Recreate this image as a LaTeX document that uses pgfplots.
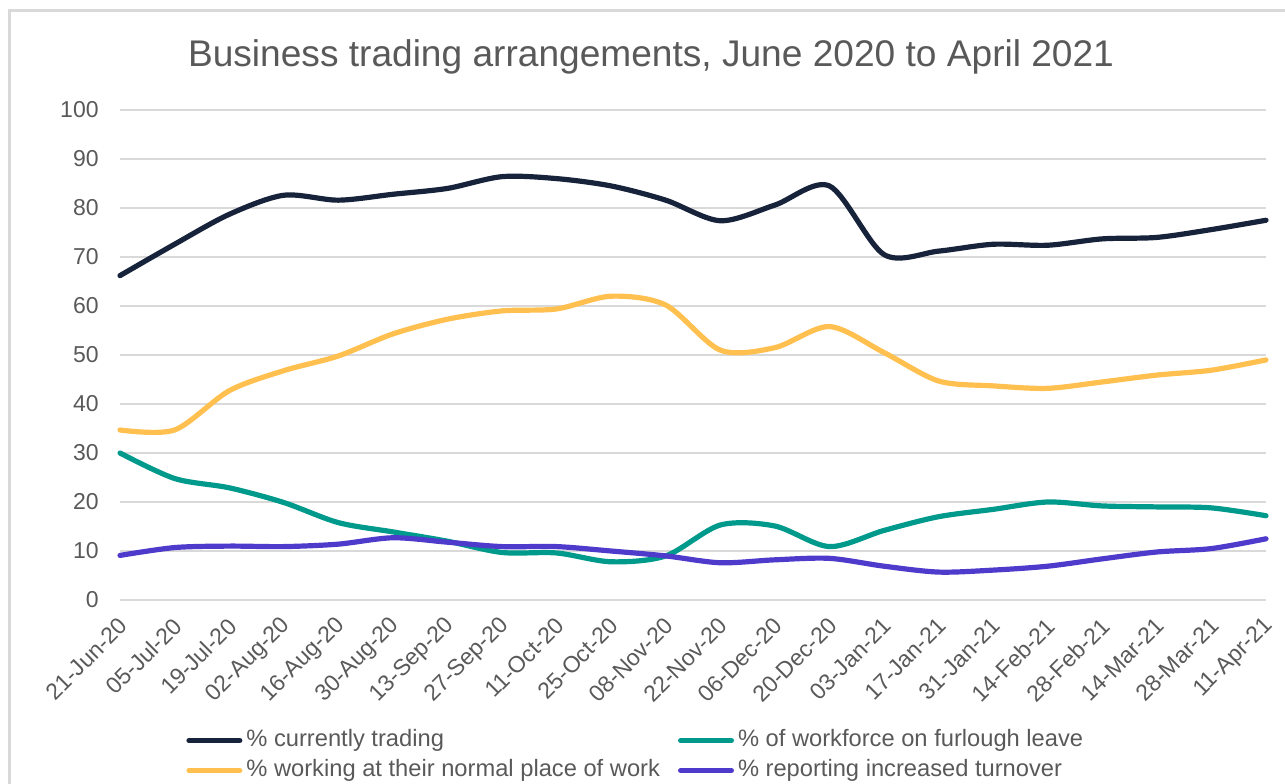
\documentclass[border=0pt]{standalone}
\usepackage{pgfplots}
\pgfplotsset{compat=1.18}
\usepackage{fontspec}
\setmainfont{Liberation Sans}
\definecolor{navy}{HTML}{17223B}
\definecolor{gold}{HTML}{FFC04F}
\definecolor{teal2}{HTML}{009A8C}
\definecolor{purp}{HTML}{4F3BCB}
\definecolor{gridgray}{HTML}{D9D9D9}
\definecolor{txt}{HTML}{595959}
\begin{document}
\begin{tikzpicture}
\begin{axis}[name=ax,
  scale only axis, width=573pt, height=245pt,
  xmin=0, xmax=21, ymin=0, ymax=100,
  ytick={0,10,...,100},
  xtick={0,...,21},
  xticklabels={21-Jun-20,05-Jul-20,19-Jul-20,02-Aug-20,16-Aug-20,30-Aug-20,13-Sep-20,27-Sep-20,11-Oct-20,25-Oct-20,08-Nov-20,22-Nov-20,06-Dec-20,20-Dec-20,03-Jan-21,17-Jan-21,31-Jan-21,14-Feb-21,28-Feb-21,14-Mar-21,28-Mar-21,11-Apr-21},
  ymajorgrids, grid style={gridgray, line width=1pt},
  axis line style={draw=none}, major tick length=0pt,
  tick label style={font=\fontsize{11.5}{13}\selectfont, text=txt},
  /pgf/number format/assume math mode=true,
  yticklabel style={anchor=east, inner sep=0pt, xshift=-10.5pt},
  xticklabel style={xshift=1.7pt, yshift=-11pt, rotate=45, anchor=east, inner sep=0pt},
  title={Business trading arrangements, June 2020 to April 2021},
  title style={font=\fontsize{18.55}{22}\selectfont, text=txt, at={(axis description cs:0.4634,1)}, anchor=base, yshift=16pt, inner sep=0pt},
  clip=false,
  legend columns=2,
  legend cell align=left,
  legend style={draw=none, fill=none, inner sep=0pt, at={(axis description cs:0.0576,0)}, anchor=north west, yshift=-64.5pt,
    font=\fontsize{11.85}{14}\selectfont, text=txt,
    nodes={inner sep=0pt, text height=8.6pt, text depth=2.5pt},
    row sep=3.9pt,
    /tikz/every odd column/.append style={column sep=2pt},
    /tikz/every even column/.append style={column sep=9pt}},
  legend image code/.code={\draw[#1, line cap=round] (1.3pt,0pt) -- (26.7pt,0pt);},
  every axis plot/.append style={line width=2.6pt, smooth, line cap=round, line join=round},
]
\addplot[navy] coordinates {(0,66.2)(1,72.6)(2,78.7)(3,82.6)(4,81.6)(5,82.8)(6,84.0)(7,86.4)(8,86.0)(9,84.5)(10,81.6)(11,77.4)(12,80.6)(13,84.5)(14,70.5)(15,71.2)(16,72.6)(17,72.4)(18,73.7)(19,74.0)(20,75.6)(21,77.5)};
\addlegendentry{\% currently trading}
\addplot[teal2] coordinates {(0,30.0)(1,24.8)(2,22.9)(3,19.9)(4,15.8)(5,13.9)(6,12.0)(7,9.7)(8,9.6)(9,7.8)(10,9.0)(11,15.3)(12,15.1)(13,10.9)(14,14.2)(15,17.0)(16,18.5)(17,20.0)(18,19.2)(19,19.0)(20,18.8)(21,17.2)};
\addlegendentry{\% of workforce on furlough leave}
\addplot[gold] coordinates {(0,34.7)(1,34.7)(2,42.7)(3,46.8)(4,49.8)(5,54.3)(6,57.3)(7,59.0)(8,59.4)(9,62.0)(10,60.2)(11,51.0)(12,51.5)(13,55.8)(14,50.5)(15,44.7)(16,43.7)(17,43.2)(18,44.5)(19,45.9)(20,46.9)(21,49.0)};
\addlegendentry{\% working at their normal place of work}
\addplot[purp] coordinates {(0,9.1)(1,10.7)(2,11.0)(3,10.9)(4,11.4)(5,12.7)(6,11.8)(7,10.9)(8,10.9)(9,10.0)(10,9.0)(11,7.6)(12,8.2)(13,8.5)(14,6.9)(15,5.7)(16,6.1)(17,6.9)(18,8.4)(19,9.8)(20,10.5)(21,12.5)};
\addlegendentry{\% reporting increased turnover}
\end{axis}
\draw[gridgray, line width=1.2pt] ([xshift=-55.25pt,yshift=-100pt]ax.south west) -- ([xshift=-55.25pt,yshift=49.75pt]ax.north west) -- ([xshift=20pt,yshift=49.75pt]ax.north east);
\pgfresetboundingbox
\useasboundingbox ([xshift=-60pt,yshift=-91.5pt]ax.south west) rectangle ([xshift=9.5pt,yshift=55pt]ax.north east);
\end{tikzpicture}
\end{document}
